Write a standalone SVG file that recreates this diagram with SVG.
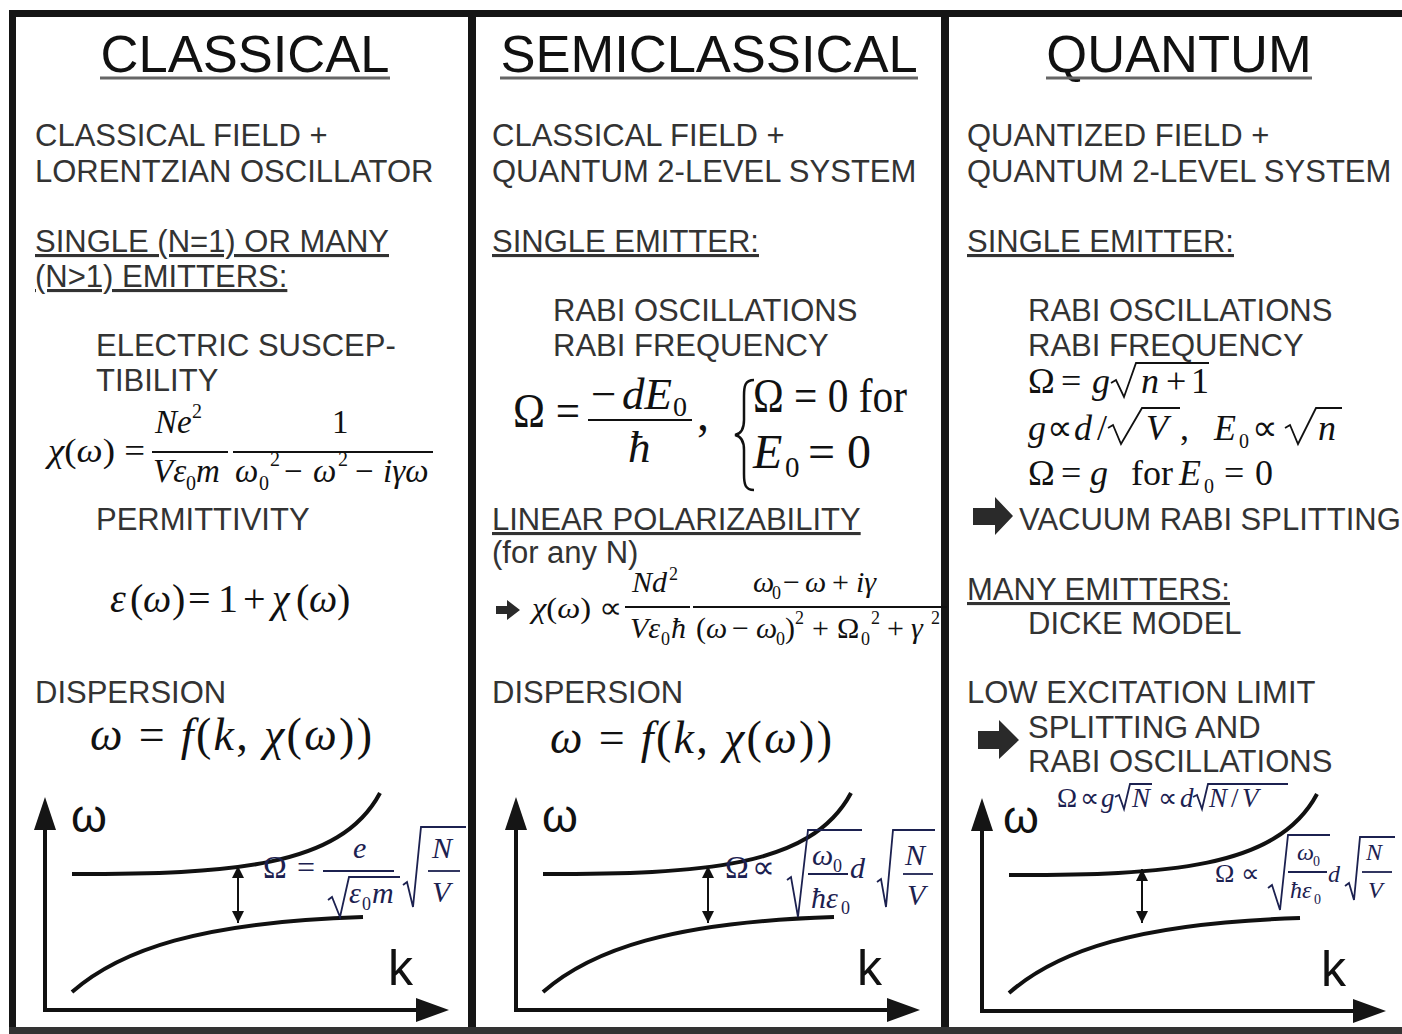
<svg xmlns="http://www.w3.org/2000/svg" width="1402" height="1034" viewBox="0 0 1402 1034">
<style>
.h{font-family:"Liberation Sans",Arial,sans-serif;font-size:52.5px;fill:#111;text-anchor:middle}
.hu{stroke:#666;stroke-width:3}
.t{font-family:"Liberation Sans",Arial,sans-serif;font-size:31px;fill:#333}
.u{text-decoration:underline}
.m{font-family:"Liberation Serif","Times New Roman",serif;fill:#111}
.i{font-style:italic}
.n{fill:#1c2150}
.bar{stroke:#111;stroke-width:2}
.nb{stroke:#1c2150;stroke-width:1.8;fill:none}
.rad{stroke:#111;stroke-width:1.8;fill:none}
.ax{stroke:#111;stroke-width:4;fill:none}
.cv{stroke:#111;stroke-width:4;fill:none}
.dbl{stroke:#111;stroke-width:2;marker-start:url(#ah);marker-end:url(#ah)}
.fr{fill:#151515}
.ar{fill:#2a2a2a}
.gl{font-family:"Liberation Sans",Arial,sans-serif;font-size:46px;fill:#111}
.gk{font-family:"Liberation Sans",Arial,sans-serif;font-size:50px;fill:#111}
</style>
<defs>
<marker id="ah" viewBox="0 0 10 10" refX="10" refY="5" markerWidth="6" markerHeight="6" orient="auto-start-reverse" markerUnits="strokeWidth"><path d="M0,0 L10,5 L0,10 z" fill="#111"/></marker>
</defs>
<rect width="1402" height="1034" fill="#fff"/>
<g id="frame" fill="#151515">
<rect x="9" y="10" width="1393" height="7"/>
<rect x="9" y="10" width="7" height="1024"/>
<rect x="468" y="10" width="8" height="1024"/>
<rect x="941" y="10" width="8" height="1024"/>
<rect x="9" y="1027" width="1393" height="7" fill="#333"/>
</g>

<!-- CLASSICAL column -->
<g id="classical-header">
<text class="h" x="245" y="72">CLASSICAL</text>
<line class="hu" x1="100" y1="78" x2="390" y2="78"/>
</g>
<g id="classical-text" class="t">
<text x="35" y="146">CLASSICAL FIELD +</text>
<text x="35" y="182">LORENTZIAN OSCILLATOR</text>
<text x="35" y="252" class="u">SINGLE (N=1) OR MANY</text>
<text x="35" y="287" class="u">(N&gt;1) EMITTERS:</text>
<text x="96" y="356">ELECTRIC SUSCEP-</text>
<text x="96" y="391">TIBILITY</text>
<text x="96" y="530">PERMITTIVITY</text>
<text x="35" y="703">DISPERSION</text>
</g>
<g id="classical-susceptibility" class="m">
<text x="48" y="462" font-size="33" textLength="97" lengthAdjust="spacingAndGlyphs"><tspan class="i">χ</tspan>(<tspan class="i">ω</tspan>) =</text>
<text font-size="33" y="433"><tspan x="155" class="i">Ne</tspan><tspan x="192" y="418" font-size="20">2</tspan></text>
<line class="bar" x1="152" y1="452" x2="228" y2="452"/>
<text font-size="33" y="482"><tspan x="153" class="i">Vε</tspan><tspan x="186" y="490" font-size="20">0</tspan><tspan x="196" y="482" class="i">m</tspan></text>
<text x="332" y="433" font-size="33">1</text>
<line class="bar" x1="233" y1="452" x2="433" y2="452"/>
<text font-size="33" y="482"><tspan x="235" class="i">ω</tspan><tspan x="259" y="490" font-size="20">0</tspan><tspan x="270" y="466" font-size="20">2</tspan><tspan x="284" y="482">−</tspan><tspan x="313" class="i">ω</tspan><tspan x="338" y="466" font-size="20">2</tspan><tspan x="355" y="482">−</tspan><tspan x="383" class="i">iγω</tspan></text>
</g>
<g id="classical-permittivity" class="m">
<text y="612" font-size="40"><tspan x="110" class="i">ε</tspan><tspan x="130">(</tspan><tspan x="143" class="i">ω</tspan><tspan x="172">)</tspan><tspan x="188">=</tspan><tspan x="218">1</tspan><tspan x="243">+</tspan><tspan x="272" class="i">χ</tspan><tspan x="296">(</tspan><tspan x="309" class="i">ω</tspan><tspan x="337">)</tspan></text>
</g>
<g id="classical-dispersion" class="m">
<text x="90" y="750" font-size="46" textLength="282" lengthAdjust="spacing"><tspan class="i">ω</tspan> = <tspan class="i">f</tspan>(<tspan class="i">k</tspan>, <tspan class="i">χ</tspan>(<tspan class="i">ω</tspan>))</text>
</g>
<g id="classical-plot">
<line class="ax" x1="45" y1="1010" x2="45" y2="826"/>
<polygon class="fr" points="45,797 34,830 56,830"/>
<line class="ax" x1="43" y1="1010" x2="420" y2="1010"/>
<polygon class="fr" points="449,1010 416,998 416,1022"/>
<path class="cv" d="M72,874 C230,874 340,868 380,793"/>
<path class="cv" d="M72,992 C120,950 200,922 363,917"/>
<line class="dbl" x1="238" y1="866" x2="238" y2="923"/>
<text class="gl" x="71" y="832">ω</text>
<text class="gk" x="388" y="985">k</text>
<g class="m n">
<text font-size="32" y="878"><tspan x="263">Ω</tspan><tspan x="297">=</tspan></text>
<text font-size="30" x="353" y="858" class="i">e</text>
<line class="nb" x1="323" y1="871" x2="394" y2="871"/>
<path class="nb" d="M328,900 L332,897 L340,917 L349,877 L400,877"/>
<text font-size="30" y="903"><tspan x="349" class="i">ε</tspan><tspan x="362" y="910" font-size="18">0</tspan><tspan x="372" y="903" class="i">m</tspan></text>
<path class="nb" d="M403,885 L407,882 L413,907 L421,827 L466,827"/>
<text font-size="30" x="432" y="858" class="i">N</text>
<line class="nb" x1="428" y1="871" x2="460" y2="871"/>
<text font-size="30" x="432" y="902" class="i">V</text>
</g>
</g>

<!-- SEMICLASSICAL column -->
<g id="semiclassical-header">
<text class="h" x="709" y="72">SEMICLASSICAL</text>
<line class="hu" x1="500" y1="78" x2="918" y2="78"/>
</g>
<g id="semiclassical-text" class="t">
<text x="492" y="146">CLASSICAL FIELD +</text>
<text x="492" y="182">QUANTUM 2-LEVEL SYSTEM</text>
<text x="492" y="252" class="u">SINGLE EMITTER:</text>
<text x="553" y="321">RABI OSCILLATIONS</text>
<text x="553" y="356">RABI FREQUENCY</text>
<text x="492" y="530" class="u">LINEAR POLARIZABILITY</text>
<text x="492" y="563">(for any N)</text>
<text x="492" y="703">DISPERSION</text>
</g>
<g id="semiclassical-rabi" class="m">
<text x="513" y="427" font-size="48" textLength="67" lengthAdjust="spacingAndGlyphs">Ω =</text>
<text y="409" font-size="45"><tspan x="591">−</tspan><tspan x="622" class="i">dE</tspan><tspan x="673" y="416" font-size="28">0</tspan></text>
<line class="bar" x1="588" y1="420" x2="692" y2="420"/>
<text x="628" y="462" font-size="45" class="i">ħ</text>
<text x="697" y="430" font-size="48">,</text>
<path d="M754,380 C745,380 744,386 744,396 L744,420 C744,430 740,434 735,435 C740,436 744,440 744,450 L744,474 C744,484 745,490 754,490" stroke="#111" stroke-width="2.5" fill="none"/>
<text x="753" y="412" font-size="48" textLength="154" lengthAdjust="spacingAndGlyphs">Ω = 0 for</text>
<text y="468" font-size="48"><tspan x="753" class="i">E</tspan><tspan x="785" y="477" font-size="29">0</tspan><tspan x="808" y="468">= 0</tspan></text>
</g>
<g id="semiclassical-polarizability" class="m">
<polygon class="ar" points="496,606 507,606 507,600 520,610 507,620 507,614 496,614"/>
<text x="532" y="618" font-size="30" textLength="90" lengthAdjust="spacingAndGlyphs"><tspan class="i">χ</tspan>(<tspan class="i">ω</tspan>) ∝</text>
<text font-size="30" y="592"><tspan x="632" class="i">Nd</tspan><tspan x="669" y="580" font-size="18">2</tspan></text>
<line class="bar" x1="625" y1="607" x2="690" y2="607"/>
<text font-size="30" y="638"><tspan x="630" class="i">Vε</tspan><tspan x="661" y="645" font-size="18">0</tspan><tspan x="671" y="638" class="i">ħ</tspan></text>
<line class="bar" x1="693" y1="607" x2="947" y2="607"/>
<text font-size="30" y="592"><tspan x="753" class="i">ω</tspan><tspan x="772" y="599" font-size="18">0</tspan><tspan x="783" y="592">−</tspan><tspan x="805" class="i">ω</tspan><tspan x="832">+</tspan><tspan x="856" class="i">iγ</tspan></text>
<text font-size="30" y="638"><tspan x="696">(</tspan><tspan x="706" class="i">ω</tspan><tspan x="732">−</tspan><tspan x="756" class="i">ω</tspan><tspan x="776" y="645" font-size="18">0</tspan><tspan x="785" y="638">)</tspan><tspan x="795" y="624" font-size="18">2</tspan><tspan x="812" y="638">+</tspan><tspan x="837">Ω</tspan><tspan x="861" y="645" font-size="18">0</tspan><tspan x="871" y="624" font-size="18">2</tspan><tspan x="887" y="638">+</tspan><tspan x="911" class="i">γ</tspan><tspan x="931" y="624" font-size="18">2</tspan></text>
</g>
<g id="semiclassical-dispersion" class="m">
<text x="550" y="753" font-size="46" textLength="282" lengthAdjust="spacing"><tspan class="i">ω</tspan> = <tspan class="i">f</tspan>(<tspan class="i">k</tspan>, <tspan class="i">χ</tspan>(<tspan class="i">ω</tspan>))</text>
</g>
<g id="semiclassical-plot">
<g transform="translate(471,0)">
<line class="ax" x1="45" y1="1010" x2="45" y2="826"/>
<polygon class="fr" points="45,797 34,830 56,830"/>
<line class="ax" x1="43" y1="1010" x2="420" y2="1010"/>
<polygon class="fr" points="449,1010 416,998 416,1022"/>
<path class="cv" d="M72,874 C230,874 340,868 380,793"/>
<path class="cv" d="M72,992 C120,950 200,922 363,917"/>
<line class="dbl" x1="237" y1="866" x2="237" y2="923"/>
<text class="gl" x="71" y="832">ω</text>
<text class="gk" x="386" y="985">k</text>
</g>
<g class="m n">
<text font-size="32" y="878"><tspan x="725">Ω</tspan><tspan x="752">∝</tspan></text>
<path class="nb" d="M787,880 L791,877 L798,917 L808,830 L862,830"/>
<text font-size="30" y="865"><tspan x="812" class="i">ω</tspan><tspan x="833" y="872" font-size="18">0</tspan></text>
<line class="nb" x1="808" y1="874" x2="848" y2="874"/>
<text font-size="30" y="908"><tspan x="811" class="i">ħε</tspan><tspan x="841" y="914" font-size="18">0</tspan></text>
<text font-size="30" x="850" y="878" class="i">d</text>
<path class="nb" d="M877,882 L881,879 L886,907 L893,830 L935,830"/>
<text font-size="30" x="905" y="865" class="i">N</text>
<line class="nb" x1="903" y1="874" x2="933" y2="874"/>
<text font-size="30" x="907" y="905" class="i">V</text>
</g>
</g>

<!-- QUANTUM column -->
<g id="quantum-header">
<text class="h" x="1179" y="72">QUANTUM</text>
<line class="hu" x1="1046" y1="78" x2="1312" y2="78"/>
</g>
<g id="quantum-text" class="t">
<text x="967" y="146">QUANTIZED FIELD +</text>
<text x="967" y="182">QUANTUM 2-LEVEL SYSTEM</text>
<text x="967" y="252" class="u">SINGLE EMITTER:</text>
<text x="1028" y="321">RABI OSCILLATIONS</text>
<text x="1028" y="356">RABI FREQUENCY</text>
<text x="1019" y="530">VACUUM RABI SPLITTING</text>
<text x="967" y="600" class="u">MANY EMITTERS:</text>
<text x="1028" y="634">DICKE MODEL</text>
<text x="967" y="703">LOW EXCITATION LIMIT</text>
<text x="1028" y="738">SPLITTING AND</text>
<text x="1028" y="772">RABI OSCILLATIONS</text>
</g>
<g id="quantum-arrows">
<polygon class="ar" points="973,508 995,508 995,497 1013,516 995,535 995,525 973,525"/>
<polygon class="ar" points="978,731 999,731 999,720 1019,740 999,759 999,749 978,749"/>
</g>
<g id="quantum-rabi" class="m">
<text font-size="36" y="393"><tspan x="1028">Ω</tspan><tspan x="1061">=</tspan><tspan x="1092" class="i">g</tspan><tspan x="1141" class="i">n</tspan><tspan x="1166">+</tspan><tspan x="1191">1</tspan></text>
<path class="rad" d="M1111,383 L1116,380 L1124,397 L1136,363 L1209,363"/>
<text font-size="36" y="440"><tspan x="1028" class="i">g</tspan><tspan x="1047">∝</tspan><tspan x="1074" class="i">d</tspan><tspan x="1097">/</tspan><tspan x="1146" class="i">V</tspan><tspan x="1180">,</tspan><tspan x="1214" class="i">E</tspan><tspan x="1239" y="448" font-size="20">0</tspan><tspan x="1252" y="440">∝</tspan><tspan x="1318" class="i">n</tspan></text>
<path class="rad" d="M1108,428 L1113,425 L1121,444 L1142,408 L1180,408"/>
<path class="rad" d="M1285,428 L1290,425 L1298,444 L1316,408 L1342,408"/>
<text font-size="36" y="485"><tspan x="1028">Ω</tspan><tspan x="1061">=</tspan><tspan x="1090" class="i">g</tspan><tspan x="1131">for</tspan><tspan x="1179" class="i">E</tspan><tspan x="1204" y="493" font-size="20">0</tspan><tspan x="1224" y="485">=</tspan><tspan x="1255">0</tspan></text>
</g>
<g id="quantum-collective" class="m n">
<text font-size="27" y="807"><tspan x="1057">Ω</tspan><tspan x="1080">∝</tspan><tspan x="1101" class="i">g</tspan><tspan x="1132" class="i">N</tspan><tspan x="1158">∝</tspan><tspan x="1180" class="i">d</tspan><tspan x="1209" class="i">N</tspan><tspan x="1231">/</tspan><tspan x="1242" class="i">V</tspan></text>
<path class="nb" d="M1115,797 L1119,795 L1124,809 L1130,784 L1152,784"/>
<path class="nb" d="M1193,797 L1197,795 L1202,809 L1208,784 L1288,784"/>
</g>
<g id="quantum-plot">
<g transform="translate(937,1)">
<line class="ax" x1="45" y1="1010" x2="45" y2="826"/>
<polygon class="fr" points="45,797 34,830 56,830"/>
<line class="ax" x1="43" y1="1010" x2="420" y2="1010"/>
<polygon class="fr" points="449,1010 416,998 416,1022"/>
<path class="cv" d="M72,874 C230,874 340,868 380,793"/>
<path class="cv" d="M72,992 C120,950 200,922 363,917"/>
<line class="dbl" x1="205" y1="868" x2="205" y2="922"/>
<text class="gl" x="66" y="832">ω</text>
<text class="gk" x="384" y="985">k</text>
</g>
<g class="m n">
<text font-size="26" y="882"><tspan x="1215">Ω</tspan><tspan x="1241">∝</tspan></text>
<path class="nb" d="M1268,888 L1272,885 L1280,910 L1288,835 L1330,835"/>
<text font-size="24" y="860"><tspan x="1297" class="i">ω</tspan><tspan x="1313" y="866" font-size="14">0</tspan></text>
<line class="nb" x1="1288" y1="872" x2="1327" y2="872"/>
<text font-size="24" y="898"><tspan x="1290" class="i">ħε</tspan><tspan x="1314" y="904" font-size="14">0</tspan></text>
<text font-size="24" x="1328" y="882" class="i">d</text>
<path class="nb" d="M1345,886 L1349,883 L1354,900 L1360,837 L1395,837"/>
<text font-size="24" x="1366" y="860" class="i">N</text>
<line class="nb" x1="1362" y1="872" x2="1392" y2="872"/>
<text font-size="24" x="1368" y="898" class="i">V</text>
</g>
</g>
</svg>
